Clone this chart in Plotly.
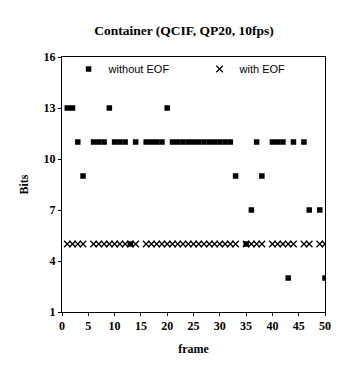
import plotly.graph_objects as go

frames = list(range(1, 51))
# Bits per frame, None where no point is drawn
without_eof = [13, 13, 11, 9, None, 11, 11, 11, 13, 11,
               11, 11, 5, 11, None, 11, 11, 11, 11, 13,
               11, 11, 11, 11, 11, 11, 11, 11, 11, 11,
               11, 11, 9, None, 5, 7, 11, 9, None, 11,
               11, 11, 3, 11, None, 11, 7, None, 7, 3]
with_eof = [5, 5, 5, 5, None, 5, 5, 5, 5, 5,
            5, 5, 5, 5, None, 5, 5, 5, 5, 5,
            5, 5, 5, 5, 5, 5, 5, 5, 5, 5,
            5, 5, 5, None, 5, 5, 5, 5, None, 5,
            5, 5, 5, 5, None, 5, 5, None, 5, 5]
y_ticks = [1, 4, 7, 10, 13, 16]
x_ticks = list(range(0, 51, 5))

serif = "Liberation Serif"
sans = "Liberation Sans"

fig = go.Figure()
fig.add_trace(go.Scatter(
    x=frames, y=without_eof, mode="markers", name="without EOF",
    marker=dict(symbol="square", size=5.5, color="black"),
))
fig.add_trace(go.Scatter(
    x=frames, y=with_eof, mode="markers", name="with EOF",
    marker=dict(symbol="x-thin", size=6.5, color="black",
                line=dict(width=1.3, color="black")),
))

fig.update_layout(
    width=352, height=367,
    margin=dict(l=54, r=35, t=49, b=63),
    paper_bgcolor="white", plot_bgcolor="white",
    title=dict(text="Container (QCIF, QP20, 10fps)", x=0.5, xanchor="center",
               y=1 - 22 / 367, yanchor="middle",
               font=dict(family=serif, size=13.5, color="black", weight="bold")),
    legend=dict(orientation="h", x=0.025, y=1.01, xanchor="left", yanchor="top",
                bgcolor="rgba(0,0,0,0)", entrywidth=86, itemwidth=30,
                font=dict(family=sans, size=11, color="black"),
                tracegroupgap=0),
    showlegend=True,
)
fig.update_xaxes(
    range=[0, 50], tickvals=x_ticks, ticktext=[str(v) for v in x_ticks],
    showgrid=False, zeroline=False, showline=True, mirror=True,
    linecolor="black", linewidth=1, ticks="outside", ticklen=3,
    tickcolor="black",
    tickfont=dict(family=serif, size=12, color="black", weight="bold"),
    title=dict(text="frame", standoff=12,
               font=dict(family=serif, size=12, color="black", weight="bold")),
)
fig.update_yaxes(
    range=[1, 16], tickvals=y_ticks, ticktext=[str(v) for v in y_ticks],
    showgrid=False, zeroline=False, showline=True, mirror=True,
    linecolor="black", linewidth=1, ticks="outside", ticklen=3,
    tickcolor="black",
    tickfont=dict(family=serif, size=12, color="black", weight="bold"),
    title=dict(text="Bits", standoff=12,
               font=dict(family=serif, size=12, color="black", weight="bold")),
)

fig.write_html("out.html")
